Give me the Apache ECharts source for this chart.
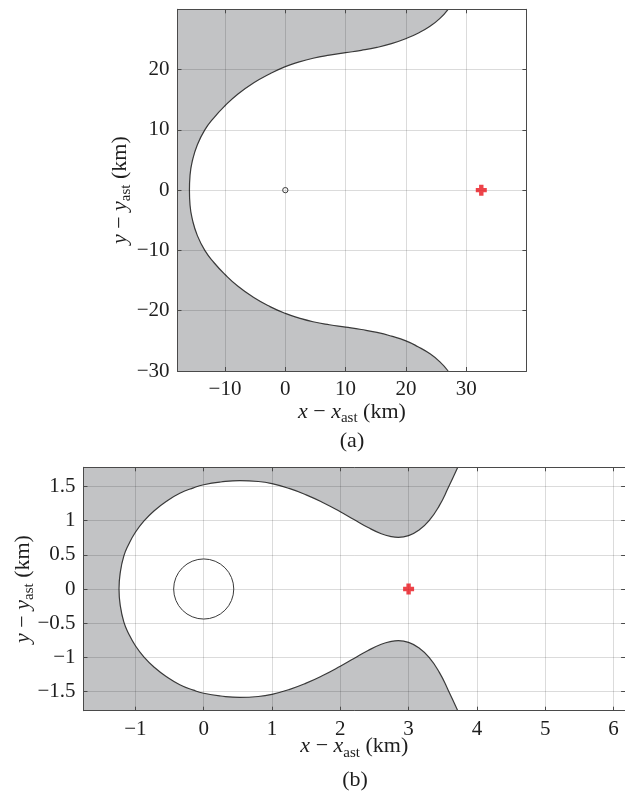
<!DOCTYPE html>
<html><head><meta charset="utf-8">
<script src="https://cdn.jsdelivr.net/npm/echarts@6/dist/echarts.min.js"></script>
<style>html,body{margin:0;padding:0;background:#fff}#c{width:625px;height:794px}</style>
</head><body><div id="c"></div>
<script>
// ---------- Panel (a) data (km) ----------
const aUpperX = [-15.9, -15.8, -15.38, -14.6, -13.35, -11.85, -10.0, -7.85, -5.3, -2.54, 0, 2.3, 4.6, 7.3, 10, 12.6, 15.2, 17.6, 20, 22, 24, 25.6, 27];
const aUpperY = [0, 2.5, 5, 7.5, 10, 12, 14.0, 15.95, 17.77, 19.32, 20.5, 21.28, 21.88, 22.39, 22.8, 23.19, 23.68, 24.3, 25.14, 26.04, 27.19, 28.45, 30];
const aLowerX = [-15.9, -15.8, -15.38, -14.6, -13.35, -11.85, -10.0, -7.85, -5.3, -2.54, 0, 2.3, 4.6, 7.3, 10, 12.6, 15.2, 17.6, 20, 22, 24, 25.6, 27];
const aLowerY = [0, -2.5, -5, -7.5, -10, -12, -14.0, -15.95, -17.77, -19.32, -20.45, -21.22, -21.83, -22.33, -22.72, -23.12, -23.6, -24.22, -25.0, -25.97, -27.15, -28.45, -30];
const aAsteroid = [[0, 0, 0.44]];   // centre x, centre y, radius
const aTarget = [[32.5, 0]];

// ---------- Panel (b) data (km) ----------
const bUpperX = [-1.24, -1.22, -1.17, -1.1, -1.0, -0.87, -0.73, -0.55, -0.35, -0.15, 0, 0.25, 0.53, 0.8, 1.0, 1.25, 1.5, 1.75, 2.0, 2.2, 2.4, 2.6, 2.75, 2.85, 3.0, 3.15, 3.3, 3.45, 3.58, 3.72];
const bUpperY = [0, 0.25, 0.48, 0.65, 0.83, 1.0, 1.14, 1.28, 1.4, 1.48, 1.525, 1.565, 1.585, 1.572, 1.54, 1.471, 1.377, 1.262, 1.13, 1.016, 0.903, 0.808, 0.765, 0.755, 0.78, 0.86, 1.0, 1.22, 1.48, 1.78];
const bLowerX = [-1.24, -1.22, -1.17, -1.1, -1.0, -0.87, -0.73, -0.55, -0.35, -0.15, 0, 0.25, 0.53, 0.8, 1.0, 1.25, 1.5, 1.75, 2.0, 2.2, 2.4, 2.6, 2.75, 2.85, 3.0, 3.15, 3.3, 3.45, 3.58, 3.72];
const bLowerY = [0, -0.25, -0.48, -0.65, -0.83, -1.0, -1.14, -1.28, -1.4, -1.48, -1.525, -1.565, -1.585, -1.572, -1.54, -1.471, -1.377, -1.262, -1.13, -1.016, -0.903, -0.808, -0.765, -0.755, -0.78, -0.86, -1.0, -1.22, -1.48, -1.78];
const bAsteroid = [[0, 0, 0.44]];
const bTarget = [[3, 0]];

// ---------- axis ranges ----------
const aXRange = [-17.88, 39.98], aYRange = [-30, 30];
const bXRange = [-1.76, 6.17],  bYRange = [-1.78, 1.78];

const FONT = 'Liberation Serif';
const GRAY = '#c2c3c5';
const AX = '#4a4a4a';
const TXT = '#1e1e1e';
const CURVE = '#3a3a3a';

const zip = (xs, ys) => xs.map((x, i) => [x, ys[i]]);
const fmt = v => String(v).replace('-', '\u2212');

const nameStyle = {
  fontFamily: FONT, fontSize: 22, color: TXT, lineHeight: 28,
  rich: {
    i: {fontFamily: FONT, fontSize: 22, fontStyle: 'italic', color: TXT, lineHeight: 28},
    s: {fontFamily: FONT, fontSize: 15, color: TXT, lineHeight: 14, verticalAlign: 'bottom'}
  }
};
const X_NAME = '{i|x} \u2212 {i|x}{s|ast} (km)';
const Y_NAME = '{i|y} \u2212 {i|y}{s|ast} (km)';

function mainAxis(dim, gi, range, split, opts) {
  return Object.assign({
    type: 'value', gridIndex: gi, min: range[0], max: range[1], splitNumber: split,
    position: dim === 'x' ? 'bottom' : 'left',
    axisLine: {show: true, onZero: false, lineStyle: {color: AX, width: 1}},
    axisTick: {show: true, inside: true, length: 4, lineStyle: {color: AX}},
    axisLabel: {show: true, margin: 8, color: TXT, fontFamily: FONT, fontSize: 21,
      showMinLabel: false, showMaxLabel: false, formatter: fmt},
    splitLine: {show: true, lineStyle: {color: 'rgba(0,0,0,0.14)', width: 1}},
    nameLocation: 'middle', nameTextStyle: nameStyle, nameMoveOverlap: false,
    z: 3
  }, opts);
}
function boxAxis(dim, gi, range, split) {
  return {
    type: 'value', gridIndex: gi, min: range[0], max: range[1], splitNumber: split,
    position: dim === 'x' ? 'top' : 'right',
    axisLine: {show: true, onZero: false, lineStyle: {color: AX, width: 1}},
    axisTick: {show: true, inside: true, length: 4, lineStyle: {color: AX}},
    axisLabel: {show: false}, splitLine: {show: false}, z: 3
  };
}

function areaSeries(ai, pts, origin) {
  return {type: 'line', xAxisIndex: ai, yAxisIndex: ai, data: pts, smooth: false,
    symbol: 'none', showSymbol: false, silent: true, z: 1,
    lineStyle: {width: 0, opacity: 0},
    areaStyle: {color: GRAY, opacity: 1, origin: origin}};
}
function strokeSeries(ai, pts) {
  return {type: 'line', xAxisIndex: ai, yAxisIndex: ai, data: pts, smooth: 0.5,
    symbol: 'none', showSymbol: false, silent: true, z: 2,
    lineStyle: {color: CURVE, width: 1.2}};
}
function circleSeries(ai, data) {
  return {type: 'custom', xAxisIndex: ai, yAxisIndex: ai, data: data, z: 5, silent: true,
    renderItem: (params, api) => {
      const c = api.coord([api.value(0), api.value(1)]);
      const r = api.size([api.value(2), 0])[0];
      return {type: 'circle', shape: {cx: c[0], cy: c[1], r: r},
        style: {fill: 'none', stroke: CURVE, lineWidth: 1}};
    }};
}
function targetSeries(ai, data) {
  return {type: 'scatter', xAxisIndex: ai, yAxisIndex: ai, data: data, z: 6, silent: true,
    symbol: 'path://M3,0H7V3H10V7H7V10H3V7H0V3H3Z', symbolSize: 11,
    itemStyle: {color: '#e8141c'}};
}

// fill polygons: the left strip is included by starting each branch at the axis minimum
const aFillUp = [[aXRange[0], 0]].concat(zip(aUpperX, aUpperY));
const aFillLo = [[aXRange[0], 0]].concat(zip(aLowerX, aLowerY));
const bFillUp = [[bXRange[0], 0]].concat(zip(bUpperX, bUpperY));
const bFillLo = [[bXRange[0], 0]].concat(zip(bLowerX, bLowerY));
const aCurve = zip(aUpperX, aUpperY).reverse().concat(zip(aLowerX, aLowerY).slice(1));
const bCurve = zip(bUpperX, bUpperY).reverse().concat(zip(bLowerX, bLowerY).slice(1));

const option = {
  animation: false,
  backgroundColor: '#fff',
  grid: [
    {left: 177.5, top: 9.3, width: 348.9, height: 361.7, containLabel: false, outerBoundsMode: 'none'},
    {left: 83.5, top: 467.3, width: 541.6, height: 243.4, containLabel: false, outerBoundsMode: 'none'}
  ],
  xAxis: [
    mainAxis('x', 0, aXRange, 5, {name: X_NAME, nameGap: 27}),
    boxAxis('x', 0, aXRange, 5),
    mainAxis('x', 1, bXRange, 8, {name: X_NAME, nameGap: 22}),
    boxAxis('x', 1, bXRange, 8)
  ],
  yAxis: [
    mainAxis('y', 0, aYRange, 5, {name: Y_NAME, nameGap: 43.5,
      axisLabel: {show: true, margin: 8, color: TXT, fontFamily: FONT, fontSize: 21,
        showMinLabel: true, showMaxLabel: false, formatter: fmt}}),
    boxAxis('y', 0, aYRange, 5),
    mainAxis('y', 1, bYRange, 7, {name: Y_NAME, nameGap: 46.5}),
    boxAxis('y', 1, bYRange, 7)
  ],
  series: [
    areaSeries(0, aFillUp, 'end'),
    areaSeries(0, aFillLo, 'start'),
    strokeSeries(0, aCurve),
    circleSeries(0, aAsteroid),
    targetSeries(0, aTarget),
    areaSeries(2, bFillUp, 'end'),
    areaSeries(2, bFillLo, 'start'),
    strokeSeries(2, bCurve),
    circleSeries(2, bAsteroid),
    targetSeries(2, bTarget)
  ],
  graphic: [
    {type: 'text', x: 352, y: 441, style: {text: '(a)', fontFamily: FONT, fontSize: 22, fill: TXT,
      align: 'center', verticalAlign: 'middle', textAlign: 'center', textVerticalAlign: 'middle'}},
    {type: 'text', x: 355, y: 780, style: {text: '(b)', fontFamily: FONT, fontSize: 22, fill: TXT,
      align: 'center', verticalAlign: 'middle', textAlign: 'center', textVerticalAlign: 'middle'}}
  ]
};

const chart = echarts.init(document.getElementById('c'), null, {renderer: 'canvas'});
chart.setOption(option);
</script>
</body></html>
